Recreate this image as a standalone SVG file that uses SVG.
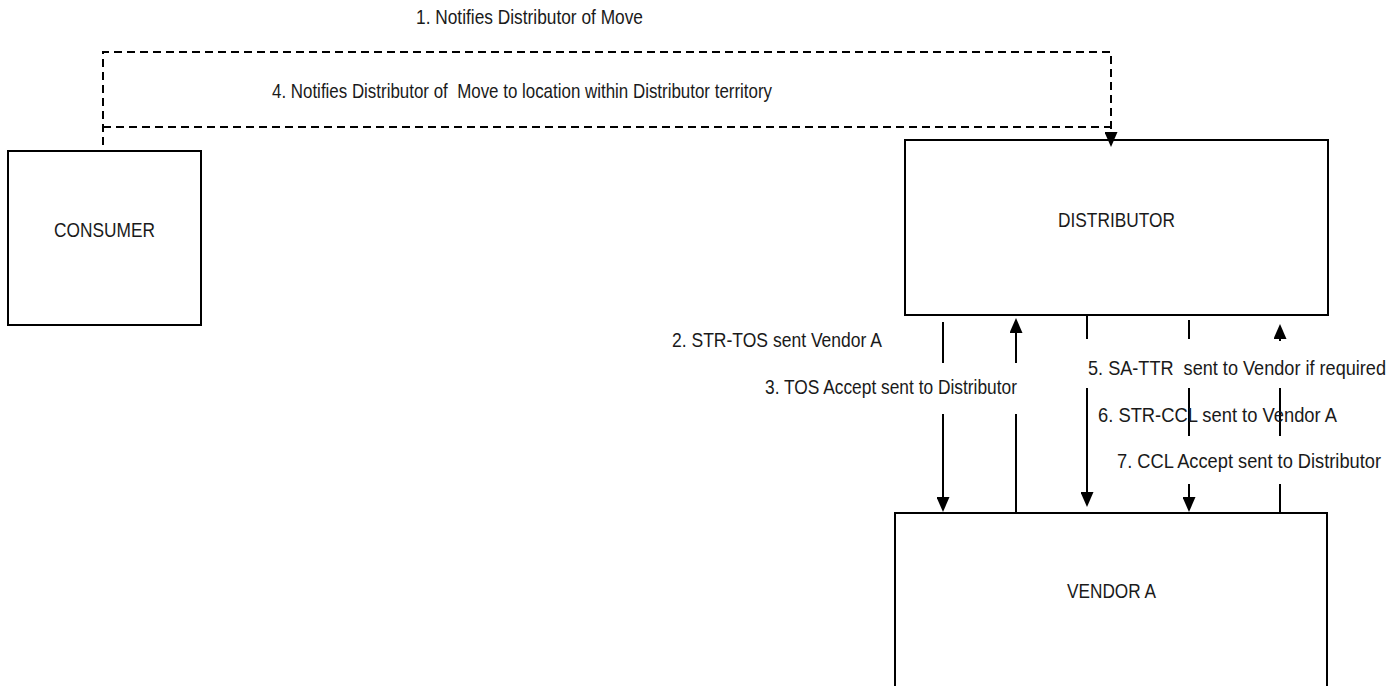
<svg xmlns="http://www.w3.org/2000/svg" width="1391" height="686" viewBox="0 0 1391 686">
<style>
  .box { fill: #ffffff; stroke: #000000; stroke-width: 2; }
  .lbl { font-family: "Liberation Sans Narrow", "Liberation Sans", Arial, sans-serif; font-size: 21px; fill: #1a1a1a; }
  .mid { text-anchor: middle; }
  .ln { stroke: #000000; stroke-width: 2; fill: none; }
  .dash { stroke: #000000; stroke-width: 2; fill: none; stroke-dasharray: 8 5; }
</style>
<defs>
  <marker id="ah" viewBox="0 0 15 13" refX="0" refY="6.5" markerWidth="15" markerHeight="13" markerUnits="userSpaceOnUse" orient="auto">
    <path d="M0,0 L15,6.5 L0,13 Z" fill="#000000" stroke="none"/>
  </marker>
</defs>
<rect width="1391" height="686" fill="#ffffff"/>

<g id="consumer">
  <rect class="box" x="8" y="151" width="193" height="174"/>
  <text class="lbl mid" x="104.5" y="237" textLength="101" lengthAdjust="spacingAndGlyphs">CONSUMER</text>
</g>

<g id="distributor">
  <rect class="box" x="905" y="140" width="423" height="175"/>
  <text class="lbl mid" x="1116.5" y="227" textLength="117" lengthAdjust="spacingAndGlyphs">DISTRIBUTOR</text>
</g>

<g id="vendor-a">
  <path class="box" d="M895,700 V513 H1327 V700"/>
  <text class="lbl mid" x="1111.5" y="598" textLength="89" lengthAdjust="spacingAndGlyphs">VENDOR A</text>
</g>

<g id="connectors">
  <path class="dash" d="M103,145 V52 H1111 V132" marker-end="url(#ah)"/>
  <path class="dash" d="M103,127 H1111"/>

  <line class="ln" x1="943" y1="322" x2="943" y2="363"/>
  <line class="ln" x1="943" y1="414" x2="943" y2="497" marker-end="url(#ah)"/>

  <line class="ln" x1="1016" y1="363" x2="1016" y2="333" marker-end="url(#ah)"/>
  <line class="ln" x1="1016" y1="414" x2="1016" y2="513"/>

  <line class="ln" x1="1087" y1="315" x2="1087" y2="339"/>
  <line class="ln" x1="1087" y1="388" x2="1087" y2="492" marker-end="url(#ah)"/>

  <line class="ln" x1="1189" y1="320" x2="1189" y2="339"/>
  <line class="ln" x1="1189" y1="388" x2="1189" y2="436"/>
  <line class="ln" x1="1189" y1="484" x2="1189" y2="497" marker-end="url(#ah)"/>

  <line class="ln" x1="1280" y1="341" x2="1280" y2="339" marker-end="url(#ah)"/>
  <line class="ln" x1="1280" y1="388" x2="1280" y2="436"/>
  <line class="ln" x1="1280" y1="484" x2="1280" y2="513"/>
</g>

<g id="labels">
  <text class="lbl" x="416" y="24" textLength="227" lengthAdjust="spacingAndGlyphs">1. Notifies Distributor of Move</text>
  <text class="lbl" x="272" y="98" textLength="500" lengthAdjust="spacingAndGlyphs" xml:space="preserve">4. Notifies Distributor of  Move to location within Distributor territory</text>
  <text class="lbl" x="672" y="347" textLength="210" lengthAdjust="spacingAndGlyphs">2. STR-TOS sent Vendor A</text>
  <text class="lbl" x="765" y="394" textLength="252" lengthAdjust="spacingAndGlyphs">3. TOS Accept sent to Distributor</text>
  <text class="lbl" x="1088" y="375" textLength="298" lengthAdjust="spacingAndGlyphs" xml:space="preserve">5. SA-TTR  sent to Vendor if required</text>
  <text class="lbl" x="1098" y="422" textLength="239" lengthAdjust="spacingAndGlyphs">6. STR-CCL sent to Vendor A</text>
  <text class="lbl" x="1117" y="468" textLength="264" lengthAdjust="spacingAndGlyphs">7. CCL Accept sent to Distributor</text>
</g>
</svg>
